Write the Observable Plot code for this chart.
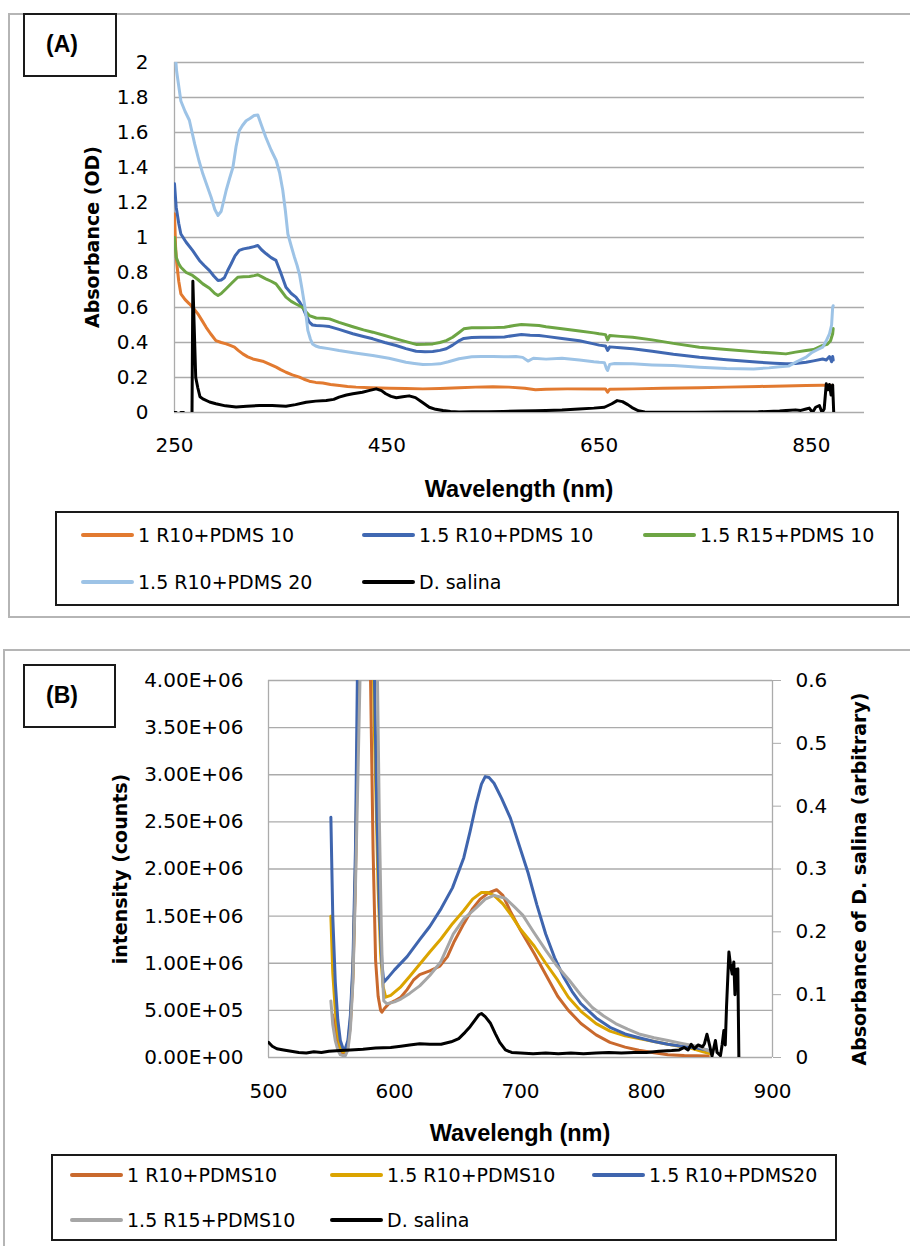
<!DOCTYPE html>
<html>
<head>
<meta charset="utf-8">
<script src="https://cdn.jsdelivr.net/npm/d3@7"></script>
<script src="https://cdn.jsdelivr.net/npm/@observablehq/plot@0.6"></script>
<style>
  html, body { margin: 0; padding: 0; background: #fff; overflow: hidden; }
  #page { position: relative; width: 910px; height: 1246px; overflow: hidden; font-family: "DejaVu Sans", sans-serif; color: #000; }
  #page svg text { font-family: "DejaVu Sans", sans-serif !important; font-size: 20px !important; }
  .frame { position: absolute; border: 2px solid #b5b5b5; box-sizing: border-box; }
  .tag { position: absolute; border: 2px solid #1a1a1a; box-sizing: border-box; font-family: "Liberation Sans", Arial, sans-serif; font-weight: bold; font-size: 23px; }
  .tag span { position: absolute; left: 21px; top: 50%; transform: translateY(-52%); }
  .title { position: absolute; white-space: nowrap; font-weight: bold; transform: translate(-50%, -50%); }
  .ytitle { font-family: "DejaVu Sans", sans-serif; font-size: 19px; transform: translate(-50%, -50%) rotate(-90deg); }
  .xtitle { font-family: "Liberation Sans", Arial, sans-serif; font-size: 23.5px; }
  .legend { position: absolute; border: 2px solid #1a1a1a; box-sizing: border-box; background: #fff; }
  .item { position: absolute; display: flex; align-items: center; white-space: nowrap; font-size: 19px; font-family: "DejaVu Sans", sans-serif; transform: translateY(-50%); }
  .sw { width: 53px; height: 4px; border-radius: 2px; margin-right: 4px; }
</style>
</head>
<body>
<div id="page"></div>
<script>
// ---------------- Panel A data: absorbance (OD) vs wavelength (nm) ----------------
const aXTicks = [250, 450, 650, 850];
const aYTicks = [0, 0.2, 0.4, 0.6, 0.8, 1, 1.2, 1.4, 1.6, 1.8, 2];
const aXDomain = [250, 900];
const aYDomain = [0, 2];
const aNames = ["1 R10+PDMS 10", "1.5 R10+PDMS 10", "1.5 R15+PDMS 10", "1.5 R10+PDMS 20", "D. salina"];
const aColors = ["#E27A30", "#4068B2", "#6DA544", "#9DC3E6", "#000000"];

const aR10P10 = [[250,1.135],[251,0.95],[252,0.86],[254,0.75],[256,0.678],[260,0.645],[264,0.621],[268,0.595],[272,0.564],[276,0.525],[279.8,0.487],[284,0.45],[289,0.411],[294,0.4],[298.7,0.392],[302.5,0.383],[306.5,0.373],[310,0.355],[314.3,0.335],[319,0.318],[323.8,0.306],[328,0.3],[333,0.293],[340,0.275],[345.8,0.259],[350,0.245],[355,0.23],[361,0.215],[367.7,0.202],[372,0.19],[377,0.179],[383,0.172],[389.7,0.168],[397,0.16],[405.4,0.154],[413,0.149],[421,0.145],[435,0.142],[452.5,0.139],[468,0.137],[484,0.135],[500,0.137],[518.4,0.141],[533.5,0.145],[550,0.147],[565,0.145],[580,0.138],[590,0.13],[600,0.133],[620,0.135],[645,0.135],[656,0.135],[658,0.116],[660,0.133],[681.6,0.135],[710,0.138],[744.5,0.141],[770,0.145],[801,0.149],[825,0.151],[845,0.154],[860,0.156],[870,0.155]];
const aR10P10b = [[250,1.307],[251.6,1.173],[254,1.08],[256,1.02],[261,0.973],[267,0.926],[273.5,0.869],[278,0.84],[283,0.811],[287,0.78],[291,0.754],[294,0.757],[297,0.77],[300,0.81],[303.4,0.85],[307,0.895],[311,0.926],[315,0.935],[320.6,0.941],[325,0.948],[328.5,0.954],[332,0.93],[336.4,0.907],[341,0.885],[345.6,0.869],[350,0.8],[355,0.716],[360,0.68],[364.4,0.659],[368,0.63],[370.8,0.6],[374,0.555],[377,0.516],[380,0.5],[383.5,0.497],[390,0.495],[396,0.491],[405,0.475],[418,0.45],[428,0.434],[436.8,0.421],[448,0.4],[458.8,0.383],[468,0.365],[477.6,0.35],[486,0.347],[493.3,0.349],[500,0.355],[506,0.364],[512,0.385],[518.4,0.411],[522.5,0.423],[530,0.428],[538.7,0.43],[550,0.43],[560.8,0.432],[570,0.44],[576.8,0.446],[585,0.442],[593.4,0.44],[600,0.435],[615,0.423],[631.5,0.41],[645,0.392],[650,0.385],[656,0.38],[658,0.355],[660,0.375],[670,0.37],[681.6,0.364],[700,0.35],[720,0.333],[744.5,0.316],[770,0.302],[801,0.287],[815,0.282],[826,0.278],[835,0.28],[845,0.287],[852,0.295],[860.6,0.306],[864,0.3],[867,0.32],[869,0.29],[870,0.32],[870.5,0.3]];
const aR15P10 = [[250,1.0],[251.6,0.887],[254,0.85],[256,0.83],[261,0.8],[267,0.783],[272,0.76],[276.7,0.735],[283,0.71],[288,0.68],[291,0.669],[294,0.68],[298.6,0.707],[304,0.74],[309.6,0.773],[315,0.776],[320.6,0.777],[325,0.782],[328.5,0.787],[332,0.776],[336,0.764],[341,0.75],[345.6,0.735],[350,0.7],[355,0.659],[360,0.635],[364.4,0.62],[370.8,0.6],[374,0.575],[377,0.554],[383.5,0.54],[390,0.538],[396,0.535],[405,0.515],[418,0.49],[428,0.472],[436.8,0.459],[448,0.44],[458.8,0.421],[468,0.405],[477.6,0.389],[486,0.39],[493.3,0.392],[500,0.4],[506,0.411],[512,0.43],[518.4,0.459],[522.5,0.478],[530,0.484],[538.7,0.484],[550,0.485],[560.8,0.487],[570,0.497],[576.8,0.503],[585,0.5],[593.4,0.497],[600,0.49],[615,0.478],[631.5,0.466],[645,0.455],[650,0.45],[656,0.445],[658,0.415],[660,0.44],[670,0.435],[681.6,0.43],[700,0.415],[720,0.395],[744.5,0.373],[770,0.36],[801,0.345],[815,0.34],[826,0.335],[835,0.345],[845,0.354],[852,0.36],[860.6,0.383],[865,0.39],[868,0.41],[870,0.45],[870.5,0.48]];
const aR10P20 = [[250,2.1],[252,1.95],[256,1.78],[260,1.72],[264,1.67],[269,1.535],[273,1.44],[276.7,1.364],[281,1.29],[284.5,1.23],[288,1.16],[291,1.126],[294,1.15],[298.7,1.27],[302,1.34],[305,1.4],[308,1.52],[311,1.61],[314,1.64],[317.5,1.667],[321,1.68],[325,1.697],[328.5,1.7],[332,1.64],[336,1.573],[341,1.5],[345.8,1.44],[349,1.37],[352,1.27],[354.5,1.15],[356.8,1.02],[360,0.95],[363,0.887],[365.5,0.84],[367.7,0.79],[370,0.71],[372.4,0.62],[374,0.55],[375.6,0.469],[378,0.42],[380,0.392],[383,0.38],[386.6,0.373],[395,0.365],[405,0.354],[420,0.34],[436.8,0.326],[452,0.31],[468,0.287],[476,0.28],[484,0.274],[492,0.275],[500,0.278],[508,0.29],[518,0.307],[530,0.318],[539,0.32],[550,0.32],[560,0.318],[571.6,0.32],[578,0.315],[583,0.294],[588,0.31],[600,0.305],[615,0.31],[631.5,0.3],[645,0.29],[650,0.287],[655,0.285],[657,0.25],[658,0.24],[660,0.275],[664.5,0.28],[681.6,0.278],[700,0.272],[720,0.268],[744.5,0.259],[770,0.252],[795.6,0.249],[810,0.255],[820,0.262],[828.5,0.265],[836,0.29],[845,0.316],[850.6,0.344],[856,0.36],[860.6,0.373],[864,0.41],[867,0.45],[869,0.5],[870,0.6],[870.5,0.61]];
const aSalina = [[250,0],[251.5,0],[252,null],[256,0],[258.5,0],[259,null],[266.5,0],[267.3,0.75],[268.5,0.5],[270,0.2],[272,0.14],[274,0.09],[276.7,0.078],[283,0.06],[289,0.05],[298,0.038],[308,0.032],[318,0.036],[330,0.04],[342,0.04],[355,0.036],[364,0.045],[374,0.059],[383,0.065],[393,0.069],[400,0.075],[405,0.088],[412,0.1],[418,0.107],[427,0.116],[433,0.125],[440,0.135],[445,0.125],[449,0.107],[454,0.092],[459,0.084],[465,0.09],[471,0.095],[477,0.085],[483,0.06],[490,0.03],[496,0.018],[503,0.011],[510,0.006],[518,0.003],[530,0.004],[545,0.005],[560,0.006],[575,0.008],[590,0.01],[600,0.012],[615,0.014],[631,0.02],[645,0.025],[655,0.03],[662,0.05],[667,0.068],[672,0.062],[677,0.045],[681,0.028],[687,0.01],[693,0.003],[710,0.002],[740,0.002],[770,0.003],[800,0.004],[820,0.008],[826,0.011],[835,0.015],[840,0.012],[845,0.02],[848,0.025],[851,0],[854,0.03],[857.5,0.04],[860,0],[862,0.02],[864,0.164],[865.5,0.13],[867,0.16],[868.5,0.1],[870,0.157],[871,0]];
const aSeries = [aR10P10, aR10P10b, aR15P10, aR10P20, aSalina];

// ---------------- Panel B data: emission intensity (counts) and D. salina absorbance ----------------
const bXTicks = [500, 600, 700, 800, 900];
const bYTicks = [0, 5e5, 1e6, 1.5e6, 2e6, 2.5e6, 3e6, 3.5e6, 4e6];
const bY2Ticks = [0, 0.1, 0.2, 0.3, 0.4, 0.5, 0.6];
const bXDomain = [500, 900];
const bYDomain = [0, 4e6];
const bY2Domain = [0, 0.6];
const bNames = ["1 R10+PDMS10", "1.5 R10+PDMS10", "1.5 R10+PDMS20", "1.5 R15+PDMS10", "D. salina"];
const bColors = ["#C9692D", "#DBA400", "#3F65AE", "#A6A6A6", "#000000"];

const bR10P10 = [[551,0.45e6],[553,0.3e6],[555,0.15e6],[557,0.06e6],[559,0.03e6],[561,0.04e6],[563,0.12e6],[565,0.35e6],[567,0.85e6],[569,1.9e6],[571,3.6e6],[573,6e6],[576,8e6],[579.5,5e6],[581,4e6],[583,2.2e6],[585,1.03e6],[587,0.65e6],[589,0.5e6],[590,0.48e6],[592,0.52e6],[595.5,0.57e6],[600,0.6e6],[605,0.64e6],[610,0.72e6],[615,0.82e6],[620,0.88e6],[628,0.92e6],[636,0.97e6],[642,1.07e6],[647,1.22e6],[655,1.42e6],[662,1.58e6],[668,1.68e6],[675,1.75e6],[681,1.78e6],[686,1.72e6],[692,1.55e6],[700,1.35e6],[711,1.1e6],[720,0.88e6],[729.5,0.65e6],[738,0.5e6],[748,0.36e6],[760,0.24e6],[771,0.16e6],[783,0.11e6],[794,0.077e6],[806,0.05e6],[817,0.03e6],[830,0.02e6],[849,0.015e6]];
const bR10P10b = [[549.5,1.5e6],[551,0.9e6],[553,0.5e6],[555,0.25e6],[557,0.1e6],[559,0.06e6],[561,0.06e6],[563,0.15e6],[565,0.4e6],[567,0.9e6],[569,2.0e6],[571,3.8e6],[573,6e6],[577,9e6],[581,6e6],[584,3.5e6],[587,1.8e6],[589,1.1e6],[591,0.75e6],[593,0.64e6],[597,0.66e6],[605,0.75e6],[612,0.86e6],[620,0.99e6],[628,1.12e6],[637,1.26e6],[646,1.42e6],[655,1.56e6],[662,1.68e6],[669,1.75e6],[674,1.75e6],[679,1.72e6],[686,1.63e6],[692.6,1.51e6],[700,1.36e6],[711,1.18e6],[720,1.0e6],[729.5,0.82e6],[738,0.64e6],[748,0.49e6],[760,0.36e6],[771,0.28e6],[783,0.23e6],[794,0.2e6],[806,0.17e6],[817,0.14e6],[826,0.12e6],[835,0.1e6],[845,0.06e6],[851,0.04e6]];
const bR10P20 = [[549.5,2.55e6],[551,1.5e6],[553,0.8e6],[555,0.4e6],[557,0.18e6],[559,0.1e6],[561,0.095e6],[563,0.18e6],[565,0.45e6],[567,1.0e6],[569,2.2e6],[570.5,4.0e6],[572,6.5e6],[575,9e6],[578,9e6],[581,6.5e6],[584,4.1e6],[586,2.6e6],[588,1.6e6],[590,1.0e6],[591.5,0.8e6],[595,0.85e6],[600,0.93e6],[610,1.07e6],[620,1.25e6],[628,1.39e6],[637,1.58e6],[646,1.8e6],[655,2.12e6],[660,2.4e6],[665,2.7e6],[669,2.9e6],[672,2.98e6],[675,2.97e6],[679,2.91e6],[685,2.75e6],[692,2.54e6],[699,2.25e6],[706,1.96e6],[713,1.62e6],[720,1.31e6],[727,1.06e6],[734,0.86e6],[741,0.7e6],[748,0.57e6],[760,0.42e6],[771,0.32e6],[783,0.25e6],[794,0.21e6],[806,0.17e6],[817,0.14e6],[828,0.12e6],[840,0.1e6],[848,0.08e6],[852,0.06e6]];
const bR15P10 = [[549.5,0.6e6],[551,0.35e6],[553,0.18e6],[555,0.08e6],[557,0.03e6],[559,0.02e6],[561,0.02e6],[563,0.08e6],[565,0.3e6],[567,0.8e6],[569,1.8e6],[571,3.0e6],[572.6,4.0e6],[575,7e6],[580,9e6],[584,6e6],[586.5,4.0e6],[588,2.5e6],[589.5,1.4e6],[590.5,0.85e6],[591.5,0.6e6],[594,0.57e6],[600,0.59e6],[605,0.62e6],[612,0.68e6],[620,0.76e6],[628,0.87e6],[636.5,1.01e6],[646.6,1.31e6],[655,1.47e6],[665,1.59e6],[672,1.68e6],[679,1.72e6],[688,1.69e6],[695,1.6e6],[701.8,1.51e6],[710,1.34e6],[720,1.14e6],[729,0.97e6],[738.7,0.82e6],[748,0.66e6],[757,0.53e6],[766,0.44e6],[775.5,0.36e6],[785,0.3e6],[794,0.25e6],[806,0.21e6],[817,0.18e6],[828,0.15e6],[840,0.12e6],[846,0.09e6],[851.6,0.06e6]];
const bSalina = [[500,0.024],[503,0.018],[506.6,0.014],[512,0.012],[518,0.01],[524,0.008],[530,0.007],[536,0.009],[542,0.008],[548,0.01],[557,0.011],[565,0.012],[575,0.013],[585,0.015],[597,0.016],[605,0.018],[612,0.02],[620,0.022],[628,0.021],[637,0.021],[645,0.025],[651,0.03],[656,0.04],[660,0.049],[664,0.06],[667,0.068],[669,0.07],[672,0.065],[676,0.055],[680,0.038],[683.5,0.024],[688,0.012],[693,0.008],[700,0.007],[710,0.006],[720,0.007],[730,0.006],[740,0.007],[750,0.006],[760,0.007],[770,0.008],[780,0.007],[790,0.008],[800,0.008],[810,0.01],[820,0.011],[826,0.012],[830,0.016],[833,0.012],[835.5,0.021],[838,0.014],[841,0.02],[844.5,0.017],[846,0.022],[848,0.037],[850,0.02],[852,0.002],[854.7,0.027],[856,0.008],[858.7,0.003],[860,0.02],[861.4,0.043],[862.5,0.02],[863.5,0.08],[865.4,0.168],[866.5,0.15],[868,0.133],[869.3,0.152],[870.2,0.1],[871,0.14],[872.5,0.141],[873.3,0]];
const bSeries = [bR10P10, bR10P10b, bR10P20, bR15P10];

// ---------------- helpers ----------------
const page = document.getElementById("page");
function el(tag, cls, css, html) {
  const e = document.createElement(tag);
  if (cls) e.className = cls;
  if (css) Object.assign(e.style, css);
  if (html != null) e.innerHTML = html;
  page.appendChild(e);
  return e;
}
function place(node, left, top) {
  node.style.position = "absolute";
  node.style.left = left + "px";
  node.style.top = top + "px";
  page.appendChild(node);
}
const gridColor = "#ababab";
const baseStyle = {background: "transparent", fontFamily: "DejaVu Sans, sans-serif", fontSize: "20px", color: "#000", overflow: "visible"};
const fmtA = d => String(+d.toFixed(1));
const sci = d => {
  if (d === 0) return "0.00E+00";
  const e = Math.floor(Math.log10(d));
  return (d / 10 ** e).toFixed(2) + "E+" + String(e).padStart(2, "0");
};
const fmtB2 = d => d === 0 ? "0" : d.toFixed(1);

// frames
el("div", "frame", {left: "8px", top: "13px", width: "920px", height: "605px"});
el("div", "frame", {left: "3px", top: "649px", width: "925px", height: "610px"});

// ---------------- Panel A plot ----------------
const plotA = Plot.plot({
  width: 910, height: 470,
  marginLeft: 174, marginRight: 46, marginTop: 62, marginBottom: 58,
  style: baseStyle,
  x: {domain: aXDomain},
  y: {domain: aYDomain},
  marks: [
    Plot.gridY(aYTicks, {stroke: gridColor, strokeOpacity: 1, strokeWidth: 1.3}),
    Plot.ruleX([aXDomain[0]], {stroke: gridColor, strokeWidth: 1.3}),
    ...aSeries.map((s, i) => Plot.line(s, {x: d => d[0], y: d => d[1], stroke: aColors[i], strokeWidth: 3, clip: true})),
    Plot.axisX(aXTicks, {tickSize: 0, tickPadding: 25, label: null}),
    Plot.axisY(aYTicks, {tickSize: 0, tickPadding: 26, label: null, tickFormat: fmtA})
  ]
});
place(plotA, 0, 0);

// ---------------- Panel B plots (intensity + secondary absorbance) ----------------
const bTop = 640;
const bCommon = {
  width: 910, height: 470,
  marginLeft: 268, marginRight: 138, marginTop: 40, marginBottom: 53,
  style: baseStyle
};
const plotB = Plot.plot({
  ...bCommon,
  x: {domain: bXDomain},
  y: {domain: bYDomain},
  marks: [
    Plot.gridY(bYTicks, {stroke: gridColor, strokeOpacity: 1, strokeWidth: 1.3}),
    Plot.ruleX([bXDomain[0], bXDomain[1]], {stroke: gridColor, strokeWidth: 1.3}),
    ...bSeries.map((s, i) => Plot.line(s, {x: d => d[0], y: d => d[1], stroke: bColors[i], strokeWidth: 3, clip: true})),
    Plot.axisX(bXTicks, {tickSize: 0, tickPadding: 26, label: null}),
    Plot.axisY(bYTicks, {tickSize: 0, tickPadding: 25, label: null, tickFormat: sci})
  ]
});
place(plotB, 0, bTop);

const plotB2 = Plot.plot({
  ...bCommon,
  x: {domain: bXDomain, axis: null},
  y: {domain: bY2Domain, axis: null},
  marks: [
    Plot.line(bSalina, {x: d => d[0], y: d => d[1], stroke: bColors[4], strokeWidth: 3, clip: true}),
    Plot.axisY(bY2Ticks, {anchor: "right", tickSize: 8, tickPadding: 15, stroke: gridColor, fill: "#000", label: null, tickFormat: fmtB2})
  ]
});
place(plotB2, 0, bTop);

// ---------------- tags ----------------
el("div", "tag", {left: "23px", top: "13px", width: "94px", height: "64px"}, "<span>(A)</span>");
el("div", "tag", {left: "23px", top: "664px", width: "93px", height: "64px"}, "<span>(B)</span>");

// ---------------- axis titles ----------------
el("div", "title ytitle", {left: "92px", top: "237px"}, "Absorbance (OD)");
el("div", "title xtitle", {left: "519px", top: "489px"}, "Wavelength (nm)");
el("div", "title ytitle", {left: "120px", top: "869px"}, "intensity (counts)");
el("div", "title ytitle", {left: "859px", top: "879px"}, "Absorbance of D. salina (arbitrary)");
el("div", "title xtitle", {left: "520px", top: "1133px"}, "Wavelengh (nm)");

// ---------------- legends ----------------
function legend(box, names, colors, order, colX, rowY) {
  const lg = el("div", "legend", box);
  order.forEach((k, j) => {
    const r = Math.floor(j / 3), c = j % 3;
    const it = document.createElement("div");
    it.className = "item";
    it.style.left = colX[c] + "px";
    it.style.top = rowY[r] + "px";
    const sw = document.createElement("div");
    sw.className = "sw";
    sw.style.background = colors[k];
    const tx = document.createElement("span");
    tx.textContent = names[k];
    it.appendChild(sw); it.appendChild(tx);
    lg.appendChild(it);
  });
}
legend({left: "55px", top: "511px", width: "844px", height: "95px"}, aNames, aColors, [0, 1, 2, 3, 4], [24, 305, 586], [22, 69]);
legend({left: "51px", top: "1154px", width: "786px", height: "87px"}, bNames, bColors, [0, 1, 2, 3, 4], [17, 277, 539], [19, 64]);
</script>
</body>
</html>
